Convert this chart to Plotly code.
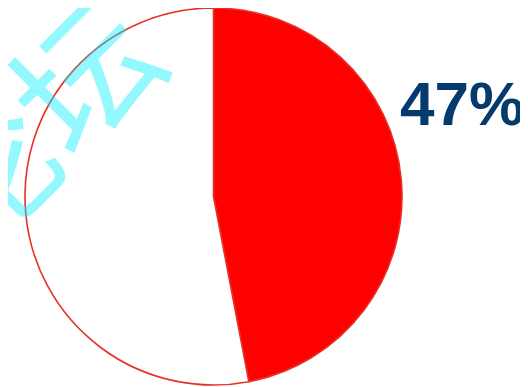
import plotly.graph_objects as go

labels = ["A", "B"]
values = [47, 53]
colors = ["#FF0000", "#FFFFFF"]
pct_label = "47%"
watermark = "论坛"

# page body has an 8px margin, so the figure is drawn 8px in from the window edge
OFF = 8
W, H = 528 - OFF, 387 - OFF
cx, cy, r = 213.5 - OFF, 196.5 - OFF, 188.5

fig = go.Figure(go.Pie(
    labels=labels,
    values=values,
    sort=False,
    direction="clockwise",
    rotation=0,
    textinfo="none",
    hoverinfo="none",
    marker=dict(colors=colors, line=dict(color="#E8302A", width=1.6)),
    domain=dict(x=[(cx - r) / W, (cx + r) / W],
                y=[max(0, (H - cy - r) / H), min(1, (H - cy + r) / H)]),
    showlegend=False,
))

fig.add_annotation(
    x=(462 - OFF) / W, y=1 - (103 - OFF) / H, xref="paper", yref="paper",
    text="<b>" + pct_label + "</b>", showarrow=False,
    font=dict(family="Liberation Sans, Arial", size=62, color="#053A6E"),
    xanchor="center", yanchor="middle",
)

fig.add_annotation(
    x=(30 - OFF) / W, y=1 - (120 - OFF) / H, xref="paper", yref="paper",
    text=watermark, showarrow=False, textangle=-45,
    font=dict(family="Noto Sans CJK SC", size=140, color="rgba(0,240,255,0.42)"),
    xanchor="center", yanchor="middle",
)

fig.update_layout(
    width=W, height=H,
    margin=dict(l=0, r=0, t=0, b=0),
    paper_bgcolor="white", plot_bgcolor="white",
)

fig.write_html("out.html")
